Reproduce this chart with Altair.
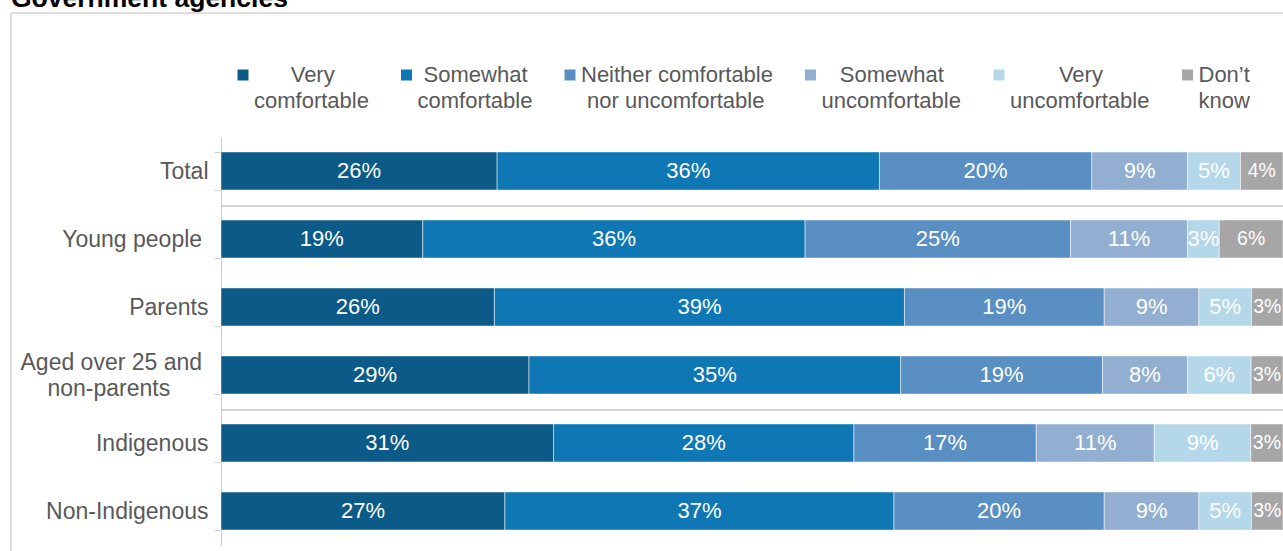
import altair as alt
import pandas as pd

NB = "\u00a0"
ZW = "\u200b"

title_text = "Government agencies"
groups = ["Total", "Young people", "Parents", "Aged over 25 and non-parents",
          "Indigenous", "Non-Indigenous"]
responses = ["Very comfortable", "Somewhat comfortable",
             "Neither comfortable nor uncomfortable", "Somewhat uncomfortable",
             "Very uncomfortable", "Don’t know"]
very_comfortable = [26, 19, 26, 29, 31, 27]
somewhat_comfortable = [36, 36, 39, 35, 28, 37]
neither = [20, 25, 19, 19, 17, 20]
somewhat_uncomfortable = [9, 11, 9, 8, 11, 9]
very_uncomfortable = [5, 3, 5, 6, 9, 5]
dont_know = [4, 6, 3, 3, 3, 3]
separator_before = ["Young people", "Indigenous"]

colors = ["#0B5A87", "#0F77B4", "#5A8FC4", "#92AFD1", "#B4D8EA", "#A6A6A6"]

series = [very_comfortable, somewhat_comfortable, neither,
          somewhat_uncomfortable, very_uncomfortable, dont_know]
rows = []
for ri, (resp, vals) in enumerate(zip(responses, series)):
    for g, v in zip(groups, vals):
        rows.append({"group": g, "response": resp, "order": ri, "value": v})
df = pd.DataFrame(rows)

FONT = "Liberation Sans"


def lead(n, s):
    return f"{ZW}{NB * n}{s}" if n else s


def trail(s, n):
    return f"{s}{NB * n}{ZW}" if n else s


y_scale = alt.Scale(domain=groups, paddingInner=0.44, paddingOuter=0.22)
x_scale = alt.Scale(domain=[0, 1], nice=False, zero=True)

y_label_expr = (
    "datum.value == 'Aged over 25 and non-parents' ? "
    f"['{trail('Aged over 25 and', 1)}', '{trail('non-parents', 6)}'] : "
    f"datum.value == 'Young people' ? '{trail('Young people', 1)}' : datum.label"
)

legend_expr = (
    f"datum.value == 'Very comfortable' ? ['{lead(6, 'Very')}', 'comfortable'] : "
    f"datum.value == 'Somewhat comfortable' ? ['{lead(1, 'Somewhat')}', 'comfortable'] : "
    f"datum.value == 'Neither comfortable nor uncomfortable' ? ['Neither comfortable', '{lead(1, 'nor uncomfortable')}'] : "
    f"datum.value == 'Somewhat uncomfortable' ? ['{lead(3, 'Somewhat')}', 'uncomfortable'] : "
    f"datum.value == 'Very uncomfortable' ? ['{lead(8, 'Very')}', 'uncomfortable'] : "
    "['Don’t', 'know']"
)

y_axis = alt.Axis(
    title=None, domainColor="#D0D0D0", tickColor="#D0D0D0", tickSize=7,
    tickBand="extent", labelFont=FONT, labelFontSize=23, labelColor="#595959",
    labelPadding=6, labelLimit=400, labelExpr=y_label_expr, labelLineHeight=26,
    labelOffset={"condition": {"test": "datum.value == 'Aged over 25 and non-parents'",
                               "value": -13}, "value": 0},
    grid=False,
)

bars = alt.Chart(df).mark_bar(stroke="white", strokeWidth=0.5).encode(
    x=alt.X("value:Q", stack="normalize", scale=x_scale, axis=None),
    y=alt.Y("group:N", scale=y_scale, sort=groups, axis=y_axis),
    color=alt.Color(
        "response:N", sort=responses,
        scale=alt.Scale(domain=responses, range=colors),
        legend=alt.Legend(
            orient="none", legendX=11, legendY=-73, direction="horizontal",
            columns=6, title=None, symbolType="square", symbolSize=121,
            symbolStrokeWidth=0, labelFont=FONT, labelFontSize=22,
            labelColor="#595959", labelOffset=0, columnPadding=26.5,
            labelLimit=400, labelExpr=legend_expr, labelBaseline="middle",
        ),
    ),
    order=alt.Order("order:Q"),
)

labels = alt.Chart(df).transform_joinaggregate(
    total="sum(value)", groupby=["group"]
).transform_window(
    cum="sum(value)", sort=[alt.SortField("order")], groupby=["group"],
    frame=[None, 0],
).transform_calculate(
    mid="(datum.cum - datum.value / 2) / datum.total",
    label="datum.value + '%'",
    fs="datum.response == 'Don’t know' ? 19.5 : 22",
).mark_text(color="white", font=FONT, align="center", baseline="middle").encode(
    x=alt.X("mid:Q", scale=x_scale, axis=None),
    y=alt.Y("group:N", scale=y_scale, sort=groups, axis=y_axis),
    text="label:N",
    size=alt.Size("fs:Q", scale=None, legend=None),
)

separators = alt.Chart(pd.DataFrame({"group": separator_before})).mark_rule(
    color="#C8C8C8", strokeWidth=1.5, yOffset=-14
).encode(
    y=alt.Y("group:N", scale=y_scale, sort=groups, axis=y_axis, bandPosition=0),
)

frame = alt.Chart(alt.Data(values=[{}])).mark_rect(
    fill="transparent", stroke="#BFBFBF", strokeWidth=1
).encode(
    x=alt.value(-210), x2=alt.value(1200), y=alt.value(-124), y2=alt.value(700)
)

title = alt.Chart(alt.Data(values=[{}])).mark_text(
    text=title_text, font=FONT, fontSize=26.5, fontWeight="bold", color="black",
    align="left", baseline="alphabetic"
).encode(x=alt.value(-210), y=alt.value(-130))

chart = alt.layer(frame, title, separators, bars, labels).properties(
    width=1062, height=408,
    autosize=alt.AutoSizeParams(type="none"),
    padding={"left": 221, "top": 137, "right": 0, "bottom": 6},
).configure(
    style={"guide-label": {"lineHeight": 26}},
).configure_view(strokeWidth=0)

chart.save("out.html", embed_options={"renderer": "svg", "actions": False})
